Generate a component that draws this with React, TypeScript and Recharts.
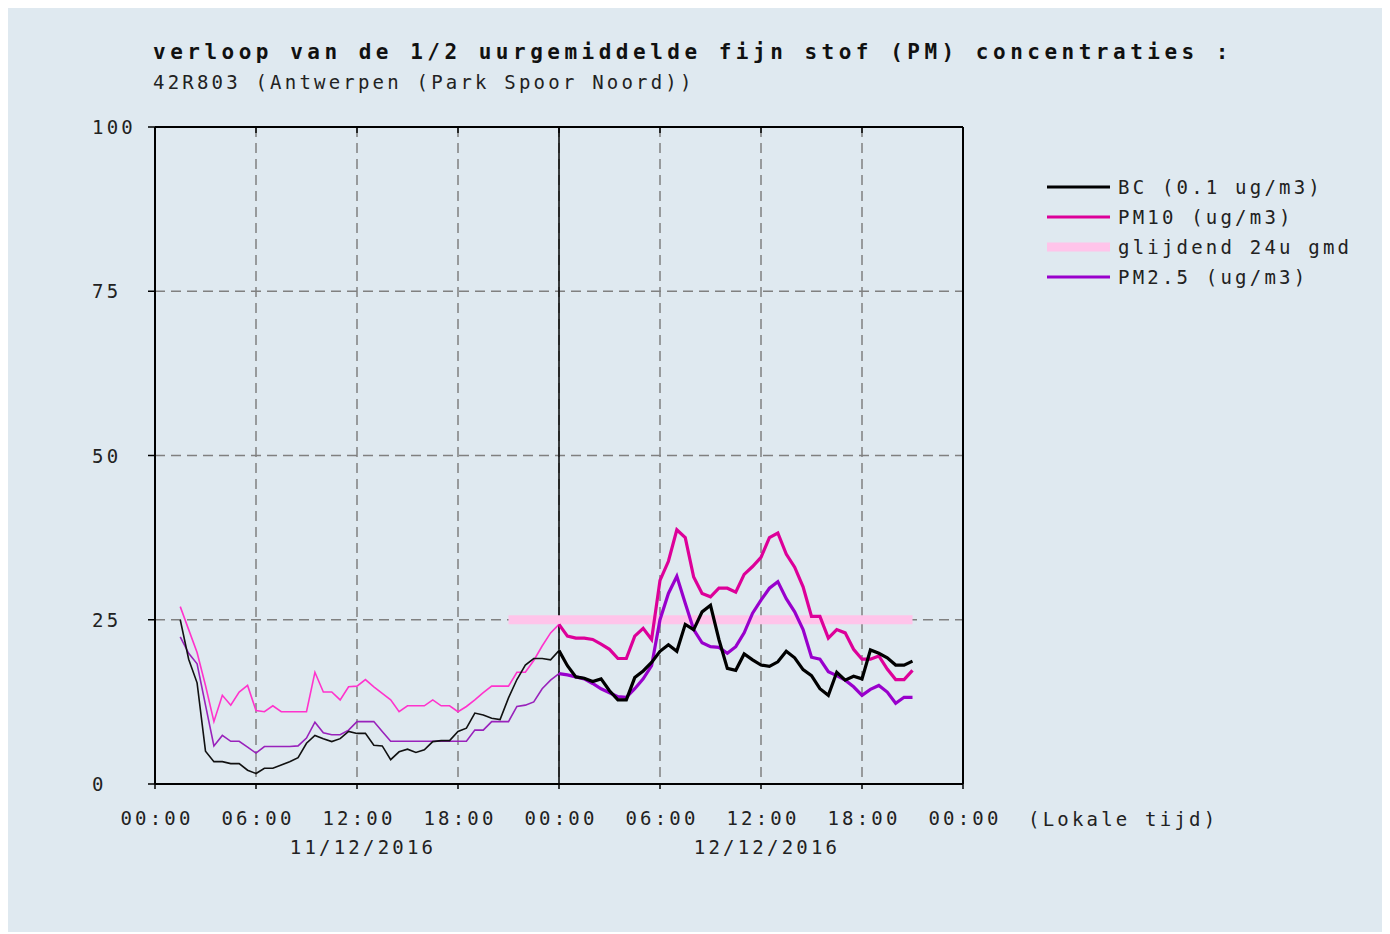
import React from "react";
import { LineChart, Line, XAxis, YAxis, CartesianGrid, ReferenceLine, Legend } from "recharts";

// half-hourly values, first point at 01:30 on 11/12, last at 21:00 on 12/12
const HOUR_START = 1.5;
const HOUR_STEP = 0.5;

const BC = [
  25, 19, 15.4, 5, 3.4, 3.4, 3.1, 3.1, 2.1, 1.6,
  2.4, 2.4, 2.9, 3.4, 4, 6.2, 7.4, 6.9, 6.45, 6.9,
  8, 7.7, 7.7, 5.9, 5.8, 3.7, 4.9, 5.3, 4.8, 5.2,
  6.45, 6.6, 6.6, 8, 8.5, 10.8, 10.5, 10, 9.8, 13.1,
  15.9, 18.1, 19.1, 19.1, 18.9, 20.3, 18, 16.3, 16.1, 15.6,
  16, 14.2, 12.8, 12.8, 16.2, 17.2, 18.5, 20.2, 21.2, 20.2,
  24.3, 23.5, 26.2, 27.2, 22, 17.6, 17.3, 19.8, 18.9, 18.1,
  17.9, 18.6, 20.2, 19.2, 17.4, 16.5, 14.5, 13.5, 17, 15.8,
  16.4, 16, 20.4, 19.9, 19.2, 18.1, 18.1, 18.7,
];

const PM10 = [
  27, 23.5, 20, 15, 9.5, 13.5, 12, 14, 15, 11.2,
  11, 11.9, 11, 11, 11, 11, 17, 14, 14, 12.8,
  14.8, 14.9, 15.9, 14.8, 13.8, 12.8, 11, 11.9, 11.9, 11.9,
  12.8, 11.9, 11.9, 11, 11.8, 12.8, 13.9, 14.9, 14.9, 14.9,
  17, 17, 18.8, 21, 23, 24.3, 22.5, 22.2, 22.2, 22,
  21.3, 20.5, 19.1, 19.1, 22.5, 23.7, 22, 31, 33.9, 38.7,
  37.5, 31.5, 29, 28.5, 29.8, 29.8, 29.2, 31.9, 33.1, 34.5,
  37.5, 38.2, 35, 33, 30, 25.5, 25.5, 22.2, 23.5, 23,
  20.5, 19, 19, 19.5, 17.5, 15.9, 15.9, 17.3,
];

const PM25 = [
  22.4, 19.9, 18.3, 12, 5.8, 7.4, 6.5, 6.5, 5.6, 4.7,
  5.7, 5.7, 5.7, 5.7, 5.8, 7, 9.4, 7.8, 7.5, 7.5,
  8.2, 9.5, 9.5, 9.5, 8, 6.5, 6.5, 6.5, 6.5, 6.5,
  6.5, 6.5, 6.5, 6.5, 6.5, 8.2, 8.2, 9.5, 9.5, 9.5,
  11.8, 12, 12.5, 14.5, 15.8, 16.8, 16.6, 16.3, 16, 15.3,
  14.5, 13.9, 13.3, 13.2, 14.5, 16, 18, 25, 29, 31.6,
  27.5, 23.5, 21.5, 20.9, 20.8, 19.9, 20.9, 23, 26, 28,
  29.8, 30.8, 28.2, 26.2, 23.5, 19.3, 19, 17.1, 16.5, 15.8,
  14.8, 13.5, 14.4, 15, 14, 12.3, 13.2, 13.2,
];

// sliding 24h mean, shown from 21:00 on the first day
const GLIJDEND_FROM = 21;
const GLIJDEND_VALUE = 25;

const MIDNIGHT = 24;
const X_TICKS = [0, 6, 12, 18, 24, 30, 36, 42, 48];
const Y_TICKS = [0, 25, 50, 75, 100];
const DATE_LABELS = [
  { hour: 12, label: "11/12/2016" },
  { hour: 36, label: "12/12/2016" },
];

const LEGEND = [
  { name: "BC (0.1 ug/m3)", color: "#000000", width: 3 },
  { name: "PM10 (ug/m3)", color: "#dd0099", width: 3 },
  { name: "glijdend 24u gmd", color: "#ffc4ea", width: 9 },
  { name: "PM2.5 (ug/m3)", color: "#9900cc", width: 3 },
];

const FONT = '"DejaVu Sans Mono", "Liberation Mono", monospace';
const TXT = { fontFamily: FONT, fontSize: 19, letterSpacing: 3.2, fill: "#222" };

const data = BC.map((bc, i) => {
  const h = HOUR_START + i * HOUR_STEP;
  const d1 = h <= MIDNIGHT;
  const d2 = h >= MIDNIGHT;
  return {
    h,
    bc1: d1 ? bc : null,
    bc2: d2 ? bc : null,
    pm10a: d1 ? PM10[i] : null,
    pm10b: d2 ? PM10[i] : null,
    pm25a: d1 ? PM25[i] : null,
    pm25b: d2 ? PM25[i] : null,
    gl: h >= GLIJDEND_FROM ? GLIJDEND_VALUE : null,
  };
});

const fmtTime = (v: number) => `${String(v % 24).padStart(2, "0")}:00`;

const TimeTick = (props: any) => {
  const { x, y, payload } = props;
  const date = DATE_LABELS.find((d) => d.hour === payload.value);
  return (
    <g>
      <text x={x + 2} y={y + 34} textAnchor="middle" style={TXT}>
        {fmtTime(payload.value)}
      </text>
      {date && (
        <text x={x + 6} y={y + 63} textAnchor="middle" style={TXT}>
          {date.label}
        </text>
      )}
    </g>
  );
};

const ValueTick = (props: any) => {
  const { y, payload } = props;
  return (
    <text x={84} y={y + 7} textAnchor="start" style={TXT}>
      {payload.value}
    </text>
  );
};

const NoTick = () => <g />;

const LegendBox = () => (
  <svg width={350} height={120}>
    {LEGEND.map((l, i) => (
      <g key={l.name}>
        <line x1={0} x2={63} y1={15 + i * 30} y2={15 + i * 30} stroke={l.color} strokeWidth={l.width} />
        <text x={71} y={22 + i * 30} style={TXT}>
          {l.name}
        </text>
      </g>
    ))}
  </svg>
);

export default function App() {
  return (
    <div style={{ position: "relative", width: 1382, height: 924, background: "#dfe9f0" }}>
      <div
        style={{
          position: "absolute", left: 145, top: 33, fontFamily: FONT, fontWeight: "bold",
          fontSize: 21, letterSpacing: 4.5, lineHeight: "22px", color: "#111", whiteSpace: "pre",
        }}
      >
        verloop van de 1/2 uurgemiddelde fijn stof (PM) concentraties :
      </div>
      <div
        style={{
          position: "absolute", left: 145, top: 63, fontFamily: FONT, fontSize: 19,
          letterSpacing: 3.2, lineHeight: "22px", color: "#222", whiteSpace: "pre",
        }}
      >
        42R803 (Antwerpen (Park Spoor Noord))
      </div>
      <div
        style={{
          position: "absolute", left: 1020, top: 800, fontFamily: FONT, fontSize: 19,
          letterSpacing: 3.2, lineHeight: "22px", color: "#222", whiteSpace: "pre",
        }}
      >
        (Lokale tijd)
      </div>
      <LineChart
        width={1382}
        height={924}
        data={data}
        margin={{ top: 119, right: 417, bottom: 68, left: 87 }}
        style={{ position: "absolute", left: 0, top: 0 }}
      >
        <CartesianGrid stroke="#808080" strokeWidth={1.5} strokeDasharray="10 6" />
        <XAxis
          dataKey="h"
          type="number"
          domain={[0, 48]}
          ticks={X_TICKS}
          interval={0}
          height={80}
          tick={<TimeTick />}
          tickSize={5}
          axisLine={{ stroke: "#000", strokeWidth: 2 }}
          tickLine={{ stroke: "#000", strokeWidth: 1.5 }}
        />
        <XAxis
          xAxisId="top"
          orientation="top"
          dataKey="h"
          type="number"
          domain={[0, 48]}
          ticks={X_TICKS}
          height={1}
          mirror
          tick={<NoTick />}
          tickSize={6}
          axisLine={{ stroke: "#000", strokeWidth: 2 }}
          tickLine={{ stroke: "#000", strokeWidth: 1.5 }}
        />
        <YAxis
          domain={[0, 100]}
          ticks={Y_TICKS}
          width={60}
          tick={<ValueTick />}
          tickSize={7}
          axisLine={{ stroke: "#000", strokeWidth: 2 }}
          tickLine={{ stroke: "#000", strokeWidth: 1.5 }}
        />
        <YAxis
          yAxisId="right"
          orientation="right"
          domain={[0, 100]}
          ticks={Y_TICKS}
          width={10}
          tick={<NoTick />}
          tickSize={6}
          axisLine={{ stroke: "#000", strokeWidth: 2 }}
          tickLine={{ stroke: "#000", strokeWidth: 1.5 }}
        />
        <ReferenceLine x={MIDNIGHT} stroke="#000" strokeWidth={1.5} />
        <Legend
          layout="horizontal"
          verticalAlign="middle"
          align="center"
          content={<LegendBox />}
          wrapperStyle={{ left: 1039, top: 164, width: 350 }}
        />

        <Line dataKey="gl" stroke="#ffc4ea" strokeWidth={9} dot={false} activeDot={false} isAnimationActive={false} legendType="none" />

        <Line dataKey="pm10a" stroke="#ff33cc" strokeWidth={1.6} dot={false} activeDot={false} isAnimationActive={false} />
        <Line dataKey="pm10b" stroke="#dd0099" strokeWidth={3.2} dot={false} activeDot={false} isAnimationActive={false} />

        <Line dataKey="pm25a" stroke="#9922bb" strokeWidth={1.6} dot={false} activeDot={false} isAnimationActive={false} />
        <Line dataKey="pm25b" stroke="#9900cc" strokeWidth={3.2} dot={false} activeDot={false} isAnimationActive={false} />

        <Line dataKey="bc1" stroke="#111" strokeWidth={1.6} dot={false} activeDot={false} isAnimationActive={false} />
        <Line dataKey="bc2" stroke="#000" strokeWidth={3.2} dot={false} activeDot={false} isAnimationActive={false} />
      </LineChart>
    </div>
  );
}
